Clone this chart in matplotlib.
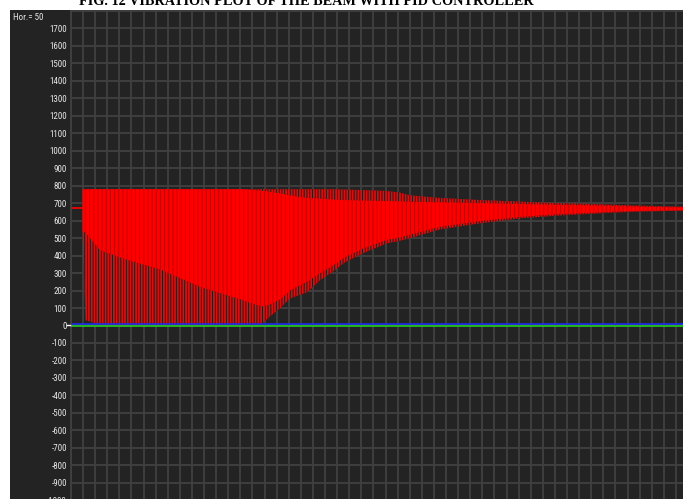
import numpy as np
import matplotlib
matplotlib.use("Agg")
import matplotlib.pyplot as plt
from matplotlib.patches import Rectangle

# time axis in horizontal divisions (Hor.= 50 per division)
t = [0.95, 1.2, 2.4, 4.9, 7.4, 10.7, 14.0, 15.2, 15.8, 16.4, 17.3, 18.1, 18.9, 19.5, 20.6,
     21.8, 22.6, 24.1, 26.1, 27.2, 28.0, 30.5, 33.8, 37.1, 40.4, 43.7, 45.4, 47.0, 50.6]
# outer envelope of the beam response (peaks and troughs of the oscillation)
peak = [780, 780, 780, 780, 780, 780, 780, 780, 780, 780, 780, 780, 780, 780, 780,
        780, 778, 775, 770, 760, 745, 730, 718, 709, 700, 694, 690, 686, 680]
trough = [540, 30, 5, 5, 5, 5, 5, 5, 10, 50, 100, 155, 175, 190, 260,
          317, 360, 413, 470, 485, 500, 550, 585, 613, 630, 642, 648, 652, 657]
# band where the trace is densest
dense_hi = [780, 780, 780, 780, 780, 780, 780, 775, 770, 765, 755, 745, 735, 730, 725,
            720, 718, 715, 712, 710, 708, 705, 700, 695, 690, 686, 683, 680, 675]
dense_lo = [540, 530, 430, 370, 320, 220, 150, 120, 110, 120, 150, 200, 230, 250, 300,
            350, 390, 440, 490, 505, 520, 565, 598, 622, 638, 648, 653, 656, 660]

setpoint_t = [0, 0.95]
setpoint = [670, 670]
blue_level = 6
green_level = -4

y_ticks = list(range(-1000, 1701, 100))

bg = "#232323"
gridc = "#404040"
txtc = "#e6e6e6"
tickfont = ["Roboto Condensed", "Liberation Sans Narrow", "Liberation Sans"]

plt.rcParams["hatch.linewidth"] = 0.7

fig = plt.figure(figsize=(6.83, 4.99), dpi=100)
fig.add_artist(Rectangle((10 / 683, 0), 1, 489 / 499, transform=fig.transFigure,
                         facecolor=bg, edgecolor="none", zorder=-10))

ax = fig.add_axes([71 / 683, -1.2 / 499, 612 / 683, 489.2 / 499])
ax.set_facecolor(bg)
ax.set_xlim(0, 50.58)
ax.set_ylim(-1000, 1800)
ax.set_xticks(range(0, 51))
ax.set_yticks(y_ticks)
ax.set_yticklabels([str(v) for v in y_ticks], fontfamily=tickfont)
ax.tick_params(axis="x", length=0, labelbottom=False)
ax.tick_params(axis="y", length=0, pad=3, labelcolor=txtc, labelsize=6.5)
ax.grid(True, color=gridc, linewidth=1.3)
ax.set_axisbelow(True)
for side in ["right", "bottom"]:
    ax.spines[side].set_visible(False)
for side in ["left", "top"]:
    ax.spines[side].set_color(gridc)
    ax.spines[side].set_linewidth(1.3)

# oscillating beam displacement, drawn as its envelope
ax.fill_between(t, trough, peak, facecolor="#d01212", edgecolor="#3a1010",
                hatch="||||||", linewidth=0, zorder=3)
ax.fill_between(t, dense_lo, dense_hi, facecolor="#ff0000", edgecolor="#c80000",
                hatch="||||", linewidth=0, zorder=4)

ax.plot(setpoint_t, setpoint, color="#ff0000", linewidth=1.2, zorder=5)
ax.axhline(blue_level, color="#1a2cff", linewidth=1.1, zorder=5)
ax.axhline(green_level, color="#22cc22", linewidth=1.2, zorder=6)
ax.plot([-0.3, -0.05], [0, 0], color="white", linewidth=1, clip_on=False, zorder=6)

fig.text(13 / 683, 1 - 17 / 499, "Hor.= 50", fontsize=6.5, color=txtc, va="center",
         fontfamily=tickfont)
fig.text(0.449, 1 - 5 / 499, "FIG. 12 VIBRATION PLOT OF THE BEAM WITH PID CONTROLLER",
         fontfamily="Liberation Serif", fontweight="bold", fontsize=10.3,
         ha="center", va="baseline", color="black")

fig.savefig("out.png", dpi=100, facecolor="white")
